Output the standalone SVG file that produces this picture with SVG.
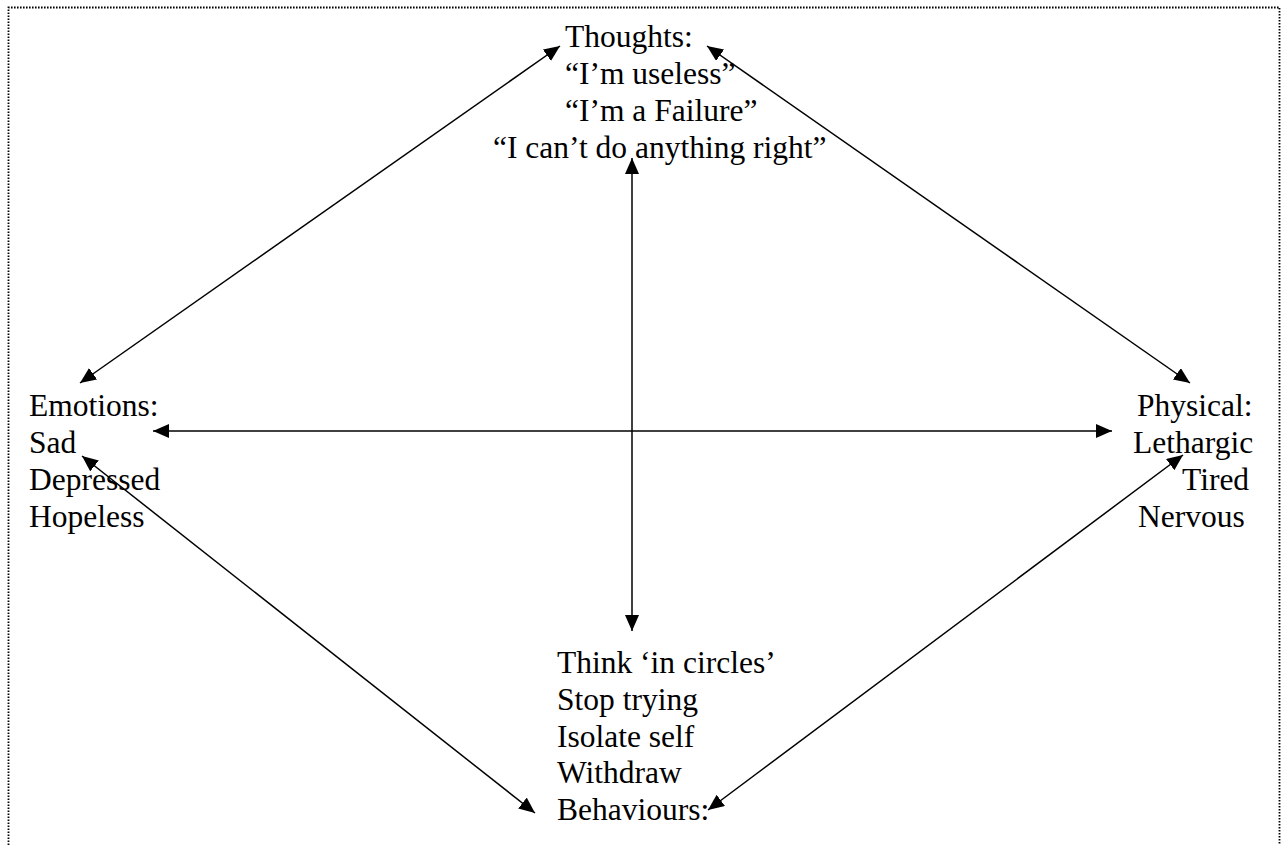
<svg xmlns="http://www.w3.org/2000/svg" width="1283" height="845" viewBox="0 0 1283 845">
<style>
  text { font-family: "Liberation Serif", "Times New Roman", serif; font-size: 31.5px; fill: #000; }
  .conn { stroke: #000; stroke-width: 1.5; fill: none; marker-start: url(#ah); marker-end: url(#ah); }
  .frame { stroke: #000; stroke-width: 1.8; fill: none; stroke-dasharray: 1.6 1.4; }
</style>
<defs>
  <marker id="ah" markerUnits="userSpaceOnUse" markerWidth="17" markerHeight="15" refX="16" refY="7" orient="auto-start-reverse">
    <path d="M0,0 L16,7 L0,14 z" fill="#000"/>
  </marker>
</defs>
<rect width="1283" height="845" fill="#fff"/>
<path class="frame" d="M8.5,845 V7.5 H1279.5 V845"/>
<g id="connectors">
  <line class="conn" x1="80" y1="383" x2="560" y2="46"/>
  <line class="conn" x1="707" y1="46" x2="1190" y2="383"/>
  <line class="conn" x1="153" y1="431" x2="1112" y2="431"/>
  <line class="conn" x1="632" y1="158" x2="632" y2="631"/>
  <line class="conn" x1="82" y1="456" x2="535" y2="813"/>
  <line class="conn" x1="1183" y1="455" x2="708" y2="810"/>
</g>
<g id="thoughts">
  <text x="565" y="47">Thoughts:</text>
  <text x="565" y="84">“I’m useless”</text>
  <text x="565" y="121">“I’m a Failure”</text>
  <text x="493" y="158">“I can’t do anything right”</text>
</g>
<g id="emotions">
  <text x="29" y="416">Emotions:</text>
  <text x="29" y="453">Sad</text>
  <text x="29" y="490">Depressed</text>
  <text x="29" y="527">Hopeless</text>
</g>
<g id="physical">
  <text x="1137" y="416">Physical:</text>
  <text x="1133" y="453">Lethargic</text>
  <text x="1182" y="490">Tired</text>
  <text x="1138" y="527">Nervous</text>
</g>
<g id="behaviours">
  <text x="557" y="673">Think ‘in circles’</text>
  <text x="557" y="710">Stop trying</text>
  <text x="557" y="746.5">Isolate self</text>
  <text x="557" y="783">Withdraw</text>
  <text x="557" y="820">Behaviours:</text>
</g>
</svg>
